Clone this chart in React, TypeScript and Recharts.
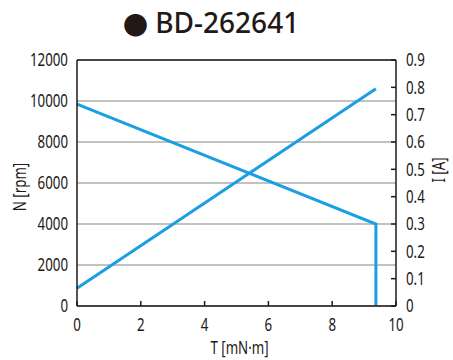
import { ComposedChart, Line, XAxis, YAxis, CartesianGrid, ReferenceLine } from "recharts";

// torque axis (mN·m)
const torqueTicks = [0, 2, 4, 6, 8, 10];
const speedTicks = [0, 2000, 4000, 6000, 8000, 10000, 12000];
const currentTicks = [0, 0.1, 0.2, 0.3, 0.4, 0.5, 0.6, 0.7, 0.8, 0.9];

// N-T curve, drops straight to zero at stall torque
const speedTorque = [0, 9.37, 9.37];
const speedValues = [9850, 4000, 0];

// I-T curve
const currentTorque = [0, 9.37];
const currentValues = [0.065, 0.795];

const speedData = speedTorque.map((t, i) => ({ t, n: speedValues[i] }));
const currentData = currentTorque.map((t, i) => ({ t, i: currentValues[i] }));

const FONT = "'Noto Sans', sans-serif";
const INK = "#231815";
const BLUE = "#1a9fe0";
const FS = 18;
const CAP = 12.8;
const SQUEEZE = 0.74;

// no condensed face installed, so squeeze the text horizontally
function CondensedTick(props: any) {
  const { x, y, payload, textAnchor, verticalAnchor } = props;
  const dy = verticalAnchor === "start" ? CAP : CAP / 2;
  return (
    <text
      transform={`translate(${x},${y + dy}) scale(${SQUEEZE},1)`}
      textAnchor={textAnchor}
      fill={INK}
      fontSize={FS}
      fontFamily={FONT}
    >
      {payload.value}
    </text>
  );
}

function axisTitle(value: string, dx: number, dy: number, rotate: boolean) {
  return (props: any) => {
    const vb = props.viewBox;
    const cx = vb.x + vb.width / 2 + dx;
    const cy = vb.y + vb.height / 2 + dy;
    const t = rotate
      ? `translate(${cx},${cy}) rotate(-90) scale(${SQUEEZE},1) translate(0,${CAP / 2})`
      : `translate(${cx},${cy}) scale(${SQUEEZE},1) translate(0,${CAP / 2})`;
    return (
      <text transform={t} textAnchor="middle" fill={INK} fontSize={FS} fontFamily={FONT}>
        {value}
      </text>
    );
  };
}

export default function App() {
  return (
    <div style={{ position: "absolute", left: 0, top: 0, width: 453, height: 360, background: "#fff" }}>
      <div
        style={{
          position: "absolute",
          left: 123,
          top: 0,
          fontFamily: FONT,
          fontSize: 28,
          fontWeight: 500,
          lineHeight: "44px",
          color: INK,
          whiteSpace: "nowrap",
        }}
      >
        <span style={{ fontFamily: "'Noto Sans CJK JP', sans-serif", fontSize: 25, verticalAlign: -2 }}>●</span> BD-262641
      </div>
      <ComposedChart width={453} height={360} margin={{ top: 60, right: 0, bottom: 0, left: 0 }}>
        <CartesianGrid horizontal vertical={false} stroke="#8a8484" strokeWidth={1.2} yAxisId="speed" />
        <XAxis
          type="number"
          dataKey="t"
          domain={[0, 10]}
          ticks={torqueTicks}
          height={54}
          stroke={INK}
          strokeWidth={1.5}
          tickSize={-5}
          tickMargin={17}
          tick={<CondensedTick />}
          label={{ content: axisTitle("T [mN·m]", 3, 15, false) }}
        />
        <YAxis
          yAxisId="speed"
          type="number"
          domain={[0, 12000]}
          ticks={speedTicks}
          width={77}
          stroke={INK}
          strokeWidth={1.5}
          tickLine={false}
          tickSize={0}
          tickMargin={9}
          tick={<CondensedTick />}
          label={{ content: axisTitle("N [rpm]", -19, 4, true) }}
        />
        <YAxis
          yAxisId="current"
          orientation="right"
          type="number"
          domain={[0, 0.9]}
          ticks={currentTicks}
          width={57}
          stroke={INK}
          strokeWidth={1.5}
          tickSize={-5}
          tickMargin={15}
          tick={<CondensedTick />}
          label={{ content: axisTitle("I [A]", 14, -13, true) }}
        />
        <ReferenceLine yAxisId="speed" y={12000} stroke={INK} strokeWidth={1.5} />
        <Line
          yAxisId="speed"
          data={speedData}
          dataKey="n"
          type="linear"
          stroke={BLUE}
          strokeWidth={3}
          dot={false}
          isAnimationActive={false}
        />
        <Line
          yAxisId="current"
          data={currentData}
          dataKey="i"
          type="linear"
          stroke={BLUE}
          strokeWidth={3}
          dot={false}
          isAnimationActive={false}
        />
      </ComposedChart>
    </div>
  );
}
